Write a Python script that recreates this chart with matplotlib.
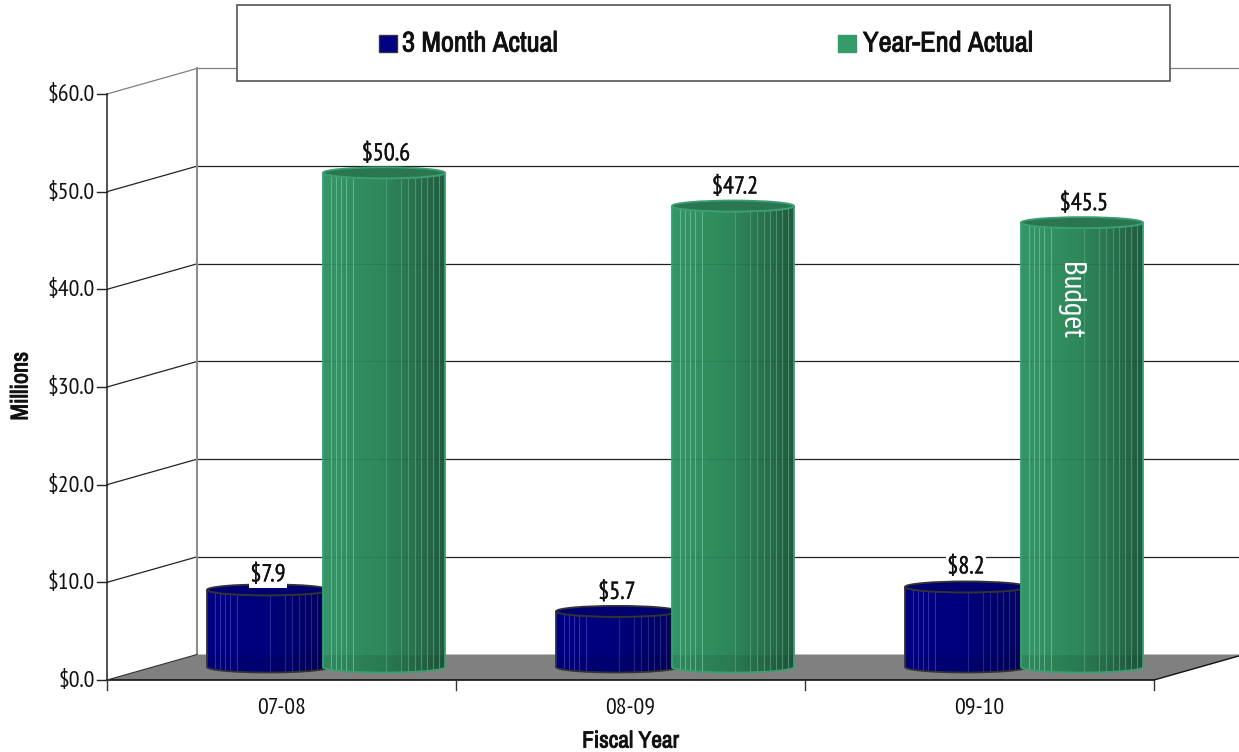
import numpy as np
import matplotlib
matplotlib.use("Agg")
import matplotlib.pyplot as plt
import matplotlib.patheffects as pe
from matplotlib.colors import LinearSegmentedColormap
from matplotlib.patches import Ellipse, PathPatch, Polygon, Rectangle
from matplotlib.path import Path

plt.rcParams['font.family'] = ['PT Sans Narrow', 'Archivo Narrow', 'Liberation Sans', 'DejaVu Sans']
HEAVY = ['Archivo Narrow', 'PT Sans Narrow', 'Liberation Sans', 'DejaVu Sans']

categories = ['07-08', '08-09', '09-10']
three_month = [7.9, 5.7, 8.2]
year_end = [50.6, 47.2, 45.5]
y_ticks = [0, 10, 20, 30, 40, 50, 60]
series_names = ['3 Month Actual', 'Year-End Actual']

W, H = 1239, 752
PX_X = 349.0          # pixels per category
PX_Y = 586 / 60       # pixels per dollar-million
X0, Y0 = 107, 680     # front-left corner of the floor, in pixels

fig = plt.figure(figsize=(W / 100, H / 100), dpi=100, facecolor='white')
ax = fig.add_axes([0, 0, 1, 1])
xlim = (-X0 / PX_X, (W - X0) / PX_X)
ylim = (-(H - Y0) / PX_Y, Y0 / PX_Y)
ax.axis('off')

dx = lambda px: px / PX_X
dy = lambda px: px / PX_Y
DEPTH_X, DEPTH_Y = dx(90), dy(25.5)
right = len(categories)
semi = [pe.withStroke(linewidth=0.25, foreground='#111111')]
heavy = [pe.withStroke(linewidth=0.65, foreground='#111111')]

# Floor and walls
ax.add_patch(Polygon([(0, 0), (DEPTH_X, DEPTH_Y), (right + DEPTH_X, DEPTH_Y), (right, 0)],
                     closed=True, fc='#808080', ec='none', zorder=1))
ax.plot([DEPTH_X, DEPTH_X], [DEPTH_Y, 60 + DEPTH_Y], color='#8c8c8c', lw=1.5, zorder=1.5)
for v in y_ticks[1:]:
    c = '#808080' if v == 60 else '#222222'
    ax.plot([0, DEPTH_X], [v, v + DEPTH_Y], color=c, lw=0.9, zorder=1.4)
    ax.plot([DEPTH_X, right + 2 * DEPTH_X], [v + DEPTH_Y, v + DEPTH_Y], color=c, lw=0.9, zorder=1.4)

# Axis lines, ticks and labels
ax.plot([0, 0], [0, 60], color='#333333', lw=1.2, zorder=2)
ax.plot([0, right], [0, 0], color='#111111', lw=1.2, zorder=2)
ax.plot([right, right + DEPTH_X], [0, DEPTH_Y], color='#111111', lw=1.0, zorder=2)
ax.plot([0, DEPTH_X], [0, DEPTH_Y], color='#333333', lw=0.8, zorder=2)
for v in y_ticks:
    ax.plot([-dx(10), 0], [v, v], color='#222222', lw=1.0, zorder=2)
    ax.text(-dx(12), v - dy(1.5), f'${v:.1f}', ha='right', va='center', fontsize=17.3, color='#111111')
for i in range(len(categories) + 1):
    ax.plot([i, i], [0, -dy(10)], color='#333333', lw=1.0, zorder=2)
for i, name in enumerate(categories):
    ax.text(i + 0.5, -dy(28), name, ha='center', va='center', fontsize=17.3, color='#111111')
ax.text(1.5, -dy(61), 'Fiscal Year', family=HEAVY, ha='center', va='center', fontsize=16.8,
        color='#111111', path_effects=heavy)
ax.text(-dx(86), dy(294), 'Millions', family=HEAVY, rotation=90, ha='center', va='center', fontsize=17.5,
        color='#111111', path_effects=heavy)

STRIPES = [8, 13, 18, 23, 30, 63, 78, 85, 92, 98, 104, 110, 116]
BAR_W = 122
BASE = dy(13)
RY = dy(5.5)
BACK_LINES = [DEPTH_Y] + [v + DEPTH_Y for v in y_ticks[1:]]


def cylinder(left_px, value, stops, line_light, line_dark, top_fill, rim, z):
    """One cylinder whose top sits at `value` above the mid-depth floor line."""
    left = dx(left_px)
    w = dx(BAR_W)
    top = BASE + value
    t = np.linspace(0, np.pi, 80)
    low_x = left + w / 2 - w / 2 * np.cos(t)
    low_y = BASE - RY * np.sin(t)
    up_x = low_x[::-1]
    up_y = top - RY * np.sin(t)[::-1]
    verts = np.vstack([np.column_stack([low_x, low_y]), np.column_stack([up_x, up_y])])
    body = Path(np.vstack([verts, verts[0]]), closed=True)
    clip = PathPatch(body, transform=ax.transData)

    cmap = LinearSegmentedColormap.from_list('shade', stops)
    im = ax.imshow(np.linspace(0, 1, 256)[None, :], cmap=cmap, aspect='auto',
                   extent=(left, left + w, BASE - RY, top + RY), origin='lower',
                   zorder=z, interpolation='bilinear')
    im.set_clip_path(clip)

    # The floor and grid lines show faintly through the cylinder wall.
    shade = Rectangle((left, BASE - 2 * RY), w, DEPTH_Y - BASE + 2 * RY, fc='black', alpha=0.09,
                      ec='none', zorder=z + 0.05)
    ax.add_patch(shade)
    shade.set_clip_path(clip)
    for level in BACK_LINES[1:]:
        if level < top:
            ln, = ax.plot([left, left + w], [level, level], color='black', lw=0.8, alpha=0.1,
                          zorder=z + 0.05)
            ln.set_clip_path(clip)

    for s in STRIPES:
        f = s / BAR_W
        x = left + w * f
        h = RY * np.sqrt(max(1 - (2 * f - 1) ** 2, 0))
        col = line_light if f < 0.45 else line_dark
        ax.plot([x, x], [BASE - h, top - h], color=col, lw=0.8, alpha=0.8, zorder=z + 0.1,
                solid_capstyle='butt')

    ax.add_patch(PathPatch(body, fc='none', ec=rim, lw=1.3, zorder=z + 0.2))
    ax.add_patch(Ellipse((left + w / 2, top), w, 2 * RY, fc=top_fill, ec=rim, lw=1.3, zorder=z + 0.3))


GREEN = ['#35966a', '#32905f', '#2e875a', '#29724e', '#215a3f']
BLUE = ['#000084', '#00007e', '#00007c', '#00006c', '#000058']
LABEL_GAP_BLUE = [14, 18, 19]   # pixels from cylinder top to its value label
LABEL_GAP_GREEN = 18

for i in range(len(categories)):
    offset = i * PX_X
    z = 3 + i
    cylinder(100 + offset, three_month[i], BLUE, '#3a3ab8', '#30308f', '#000070', '#333333', z)
    cylinder(216 + offset, year_end[i], GREEN, '#6cbd95', '#559c7b', '#2a7651', '#3aa070', z + 0.5)

    box = dict(fc='white', ec='none', pad=1.0)
    ax.text(dx(161) + i, three_month[i] + BASE + dy(LABEL_GAP_BLUE[i]), f'${three_month[i]:.1f}',
            ha='center', va='center', fontsize=17.6, color='#111111', bbox=box, zorder=z + 0.4,
            path_effects=semi)
    ax.text(dx(279) + i, year_end[i] + BASE + dy(LABEL_GAP_GREEN), f'${year_end[i]:.1f}',
            ha='center', va='center', fontsize=17.6, color='#111111', zorder=z + 0.9,
            path_effects=semi)

ax.text(2 + dx(265), dy(380), 'Budget', rotation=-90, ha='center',
        va='center', fontsize=22.5, color='white', zorder=9)

ax.set_xlim(xlim)
ax.set_ylim(ylim)

# Legend panel, placed in figure pixels
tr = fig.transFigure
fx = lambda px: px / W
fy = lambda px: 1 - px / H
fig.add_artist(Rectangle((fx(236.5), fy(81)), 933 / W, 76 / H, transform=tr, fc='white',
                         ec='#555555', lw=1.2, zorder=10))
for sx, tx, name, col, ec in [(379, 402, series_names[0], '#000080', '#333344'),
                              (838, 863, series_names[1], '#359c69', '#359c69')]:
    fig.add_artist(Rectangle((fx(sx), fy(52)), 18 / W, 17 / H, transform=tr, fc=col, ec=ec,
                             lw=1.0, zorder=11))
    fig.text(fx(tx), fy(44), name, family=HEAVY, ha='left', va='center', fontsize=20.5,
             color='#111111', zorder=11, path_effects=heavy)

fig.savefig('out.png', dpi=100)
